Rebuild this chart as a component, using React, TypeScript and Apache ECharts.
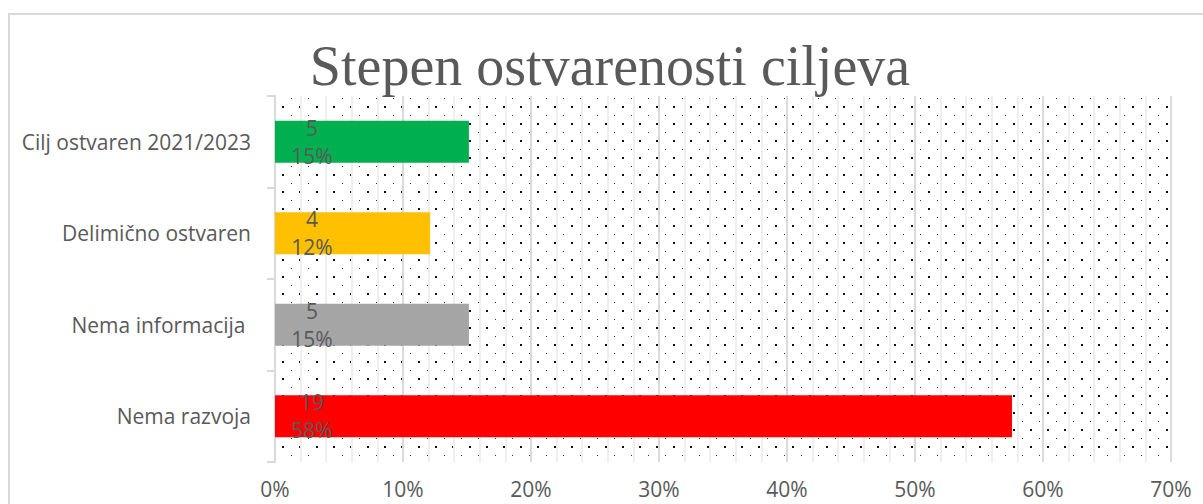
import React, { useEffect, useRef } from "react";
import * as echarts from "echarts";

const TITLE = "Stepen ostvarenosti ciljeva";
const categories = ["Cilj ostvaren 2021/2023", "Delimično ostvaren", "Nema informacija ", "Nema razvoja"];
const counts = [5, 4, 5, 19];
const percents = [0.1515, 0.1212, 0.1515, 0.5758];
const barColors = ["#00B050", "#FFC000", "#A5A5A5", "#FF0000"];
const xTicks = [0, 0.1, 0.2, 0.3, 0.4, 0.5, 0.6, 0.7];

const TEXT = "#595959";
const SANS = "'Open Sans', 'Noto Sans', sans-serif";

function dotPattern() {
  const svg =
    '<svg xmlns="http://www.w3.org/2000/svg" width="17" height="17" shape-rendering="crispEdges">' +
    '<rect x="10" y="4" width="2" height="2" fill="#111"/>' +
    '<rect x="2" y="13" width="1" height="1" fill="#333"/>' +
    "</svg>";
  return {
    image: "data:image/svg+xml;utf8," + encodeURIComponent(svg),
    repeat: "repeat",
    imageWidth: 17,
    imageHeight: 17,
  } as any;
}

export default function App() {
  const ref = useRef<HTMLDivElement>(null);
  useEffect(() => {
    document.body.style.margin = "0";
    const chart = echarts.init(ref.current!, null, { renderer: "svg" });
    chart.setOption({
      animation: false,
      backgroundColor: "#ffffff",
      title: {
        text: TITLE,
        left: 610,
        top: 38,
        padding: 0,
        textAlign: "center",
        textStyle: {
          fontFamily: "'Liberation Serif', serif",
          fontSize: 56,
          fontWeight: "normal",
          color: TEXT,
        },
      },
      graphic: [
        {
          type: "rect",
          shape: { x: 9, y: 14, width: 1300, height: 600 },
          style: { fill: "none", stroke: "#d9d9d9", lineWidth: 2 },
          silent: true,
          z: -10,
        },
      ],
      grid: {
        left: 275,
        right: 32,
        top: 96,
        bottom: 42,
        show: true,
        backgroundColor: dotPattern(),
        borderWidth: 0,
        containLabel: false,
      },
      xAxis: {
        type: "value",
        min: xTicks[0],
        max: xTicks[xTicks.length - 1],
        interval: 0.1,
        axisLine: { show: false },
        axisTick: { show: false },
        axisLabel: {
          margin: 16,
          color: TEXT,
          fontFamily: SANS,
          fontSize: 21,
          lineHeight: 21,
          formatter: (v: number) => Math.round(v * 100) + "%",
        },
        splitLine: { show: true, lineStyle: { color: "#dadada", width: 2 } },
        minorTick: { show: false, splitNumber: 5 },
        minorSplitLine: { show: true, lineStyle: { color: "#efefef", width: 2 } },
      },
      yAxis: {
        type: "category",
        data: categories,
        inverse: true,
        axisLine: { show: true, lineStyle: { color: "#d9d9d9", width: 2 } },
        axisTick: { show: true, length: 8, lineStyle: { color: "#d9d9d9", width: 2 } },
        axisLabel: {
          margin: 24,
          color: TEXT,
          fontFamily: SANS,
          fontSize: 21,
        },
        splitLine: { show: false },
      },
      series: [
        {
          type: "bar",
          barWidth: "46%",
          data: percents.map((v, i) => ({ value: v, itemStyle: { color: barColors[i] } })),
          label: {
            show: true,
            position: [37, "50%"],
            align: "center",
            verticalAlign: "middle",
            color: TEXT,
            fontFamily: SANS,
            fontSize: 21,
            lineHeight: 28,
            formatter: (p: any) => counts[p.dataIndex] + "\n" + Math.round(percents[p.dataIndex] * 100) + "%",
          },
        },
      ],
    });
    return () => chart.dispose();
  }, []);
  return <div ref={ref} style={{ width: 1203, height: 504 }} />;
}
